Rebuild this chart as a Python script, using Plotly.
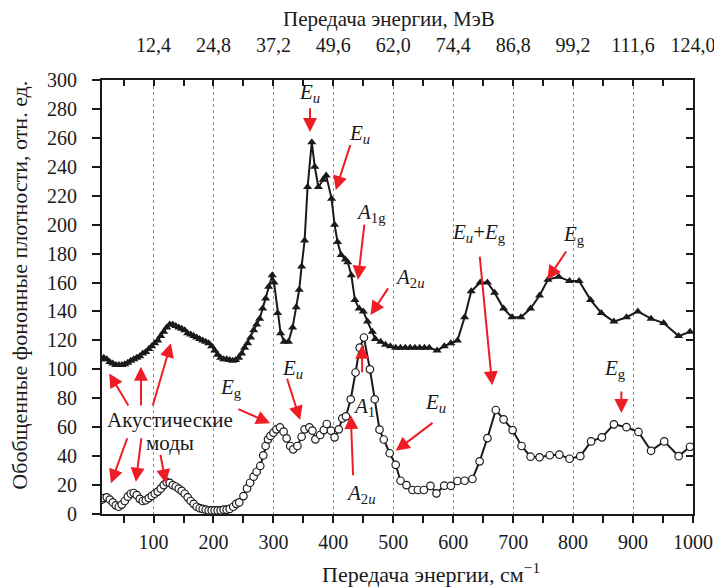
import plotly.graph_objects as go

# ---------------- data ----------------
tri_x = [14, 17, 22, 27, 32, 37, 42, 47, 52, 57, 62, 67, 72, 77, 82, 87, 92, 97, 102, 107,
         112, 117, 122, 127, 132, 137, 142, 147, 152, 157, 162, 167, 172, 177, 182, 187, 192,
         197, 202, 207, 212, 217, 222, 227, 232, 237, 242, 247, 252, 257, 262, 267, 272, 277,
         282, 287, 292, 298, 301, 307, 312, 318, 325, 332, 338, 343, 347, 352, 357, 364, 369,
         375, 383, 388, 397, 402, 407, 413, 420, 424, 430, 436, 443, 450, 457, 465, 470, 479,
         487, 495, 504, 512, 520, 528, 536, 544, 552, 560, 573, 585, 596, 607, 619, 630, 645,
         657, 669, 684, 698, 713, 729, 744, 758, 776, 794, 810, 829, 847, 868, 889, 908, 930,
         951, 976, 995]
tri_y = [107, 108, 107, 105, 104, 103, 103, 103, 103.5, 104.5, 106, 107, 108, 109, 111, 112,
         114, 116, 118, 120, 123, 126, 129, 131, 131, 130, 129, 128, 127, 125, 124, 123, 122,
         121, 120, 119, 118, 116, 113, 110, 108, 107, 107, 106.5, 106, 106.5, 108, 111, 115,
         118, 122, 127, 131, 135, 142, 149, 157, 165, 160, 139, 125, 119, 119, 129, 143, 155,
         171, 189, 226, 257, 240, 226, 231, 234, 218, 200, 188, 179, 176, 174, 165, 148, 142,
         140, 133, 126, 121, 119, 117, 116, 115, 115, 115, 115, 115, 115, 115, 115, 113, 116,
         118, 120, 136, 154, 160, 160, 153, 142, 136, 136, 142, 151, 162, 164, 161, 161, 148,
         139, 133, 136, 140, 135, 132, 123, 126]

circ_x = [14, 17, 22, 27, 32, 37, 42, 47, 52, 57, 62, 67, 72, 77, 82, 87, 92, 97, 102, 107,
          112, 117, 122, 127, 132, 137, 142, 147, 152, 157, 162, 167, 172, 177, 182, 187, 192,
          197, 202, 207, 212, 217, 222, 227, 233, 238, 243, 250, 256, 261, 267, 272, 278, 283,
          287, 291, 295, 300, 305, 311, 317, 322, 328, 333, 340, 347, 352, 360, 365, 370, 378,
          384, 389, 396, 402, 409, 415, 421, 429, 437, 444, 451, 461, 469, 477, 484, 494, 504,
          512, 522, 532, 541, 551, 562, 572, 585, 596, 607, 619, 632, 644, 657, 671, 684, 699,
          714, 729, 744, 761, 777, 794, 812, 830, 848, 868, 889, 909, 930, 952, 976, 995]
circ_y = [10, 11, 11.5, 10, 8, 6, 5, 6.5, 9, 12, 14, 14.5, 13, 10.5, 9, 9.5, 11, 12.5, 14,
          15.5, 17.5, 20, 22, 21.5, 20, 19, 17.5, 16, 14, 11.5, 9, 7, 5, 4, 3.5, 3, 2.5, 2.5,
          2.5, 2.5, 2.5, 3, 3, 3.5, 5, 7, 8, 12.4, 17.7, 21.6, 25.8, 29.2, 33.2, 40.5, 47,
          51.6, 54, 56.2, 58.5, 59.9, 56.9, 52.3, 47, 44.7, 47, 53.4, 58.5, 59.9, 57.6, 51.6,
          54.6, 58, 62.2, 57.6, 53, 58.5, 66.1, 67.5, 79.3, 97.8, 115, 122, 100, 79.3, 58.3,
          51.5, 42, 34, 23, 20, 16.6, 16.6, 16.6, 19.4, 14.3, 19.6, 19.5, 22.8, 23, 24.2,
          36.4, 52.5, 71.9, 65.4, 58, 47, 39.6, 39.2, 40.6, 41, 38.2, 40, 50.2, 53, 62, 60,
          56.7, 43.7, 50.2, 40, 46.5]

x_ticks = [100, 200, 300, 400, 500, 600, 700, 800, 900, 1000]
x_minor = [50, 150, 250, 350, 450, 550, 650, 750, 850, 950]
mev_labels = ["12,4", "24,8", "37,2", "49,6", "62,0", "74,4", "86,8", "99,2", "111,6", "124,0"]
y_ticks = [0, 20, 40, 60, 80, 100, 120, 140, 160, 180, 200, 220, 240, 260, 280, 300]

# peak labels: text, x, y (data coordinates)
label_text = ["<i>E<sub>u</sub></i>", "<i>E<sub>u</sub></i>", "<i>A</i><sub>1g</sub>",
              "<i>A</i><sub>2<i>u</i></sub>", "<i>E<sub>u</sub></i>+<i>E</i><sub>g</sub>",
              "<i>E</i><sub>g</sub>", "<i>E</i><sub>g</sub>", "<i>A</i><sub>1</sub>",
              "<i>A</i><sub>2<i>u</i></sub>", "<i>E<sub>u</sub></i>", "<i>E<sub>u</sub></i>",
              "<i>E</i><sub>g</sub>", "Акустические", "моды"]
label_x = [361, 443, 462, 528, 643, 801, 870, 451, 446, 571, 332, 229, 127, 128]
label_y = [291, 263, 208, 163, 194, 193, 100, 74, 14, 76.5, 100, 87, 65, 49]

# arrows: tail -> head (data coordinates)
arrow_tail_x = [361, 429, 452, 493, 644, 790, 880.5, 448, 433, 568, 322, 239, 59.5, 79, 98, 57, 80, 111]
arrow_tail_y = [281.5, 256, 201, 157, 179, 182.5, 85.7, 97, 25.8, 63.8, 94.5, 73, 74, 74, 74, 53.4, 53.4, 42]
arrow_head_x = [361, 404, 441, 462, 665, 757, 880.5, 448, 429, 504, 344.5, 294.5, 26, 79, 129, 29, 70.5, 120.5]
arrow_head_y = [264, 224, 162, 137.5, 89, 162, 69.8, 117, 68.4, 43.7, 65, 62.7, 97.2, 101.8, 118, 21.2, 22.3, 21.2]

FONT = "Liberation Serif, Times New Roman, serif"
INK = "#1a1a1a"
RED = "#ee1c25"

fig = go.Figure()
fig.add_trace(go.Scatter(
    x=tri_x, y=tri_y, mode="lines+markers",
    line=dict(color=INK, width=2),
    marker=dict(symbol="triangle-up", size=8, color=INK),
    showlegend=False))
fig.add_trace(go.Scatter(
    x=circ_x, y=circ_y, mode="lines+markers",
    line=dict(color=INK, width=2),
    marker=dict(symbol="circle", size=7.5, color="white", line=dict(color=INK, width=1.2)),
    showlegend=False))
# carrier trace for the top / right axes
fig.add_trace(go.Scatter(x=[None], y=[None], xaxis="x2", yaxis="y2",
                         showlegend=False, hoverinfo="skip"))

annotations = []
for tx, ty, hx, hy in zip(arrow_tail_x, arrow_tail_y, arrow_head_x, arrow_head_y):
    annotations.append(dict(
        x=hx, y=hy, ax=tx, ay=ty, xref="x", yref="y", axref="x", ayref="y",
        text="", showarrow=True, arrowhead=2, arrowsize=1.4, arrowwidth=2,
        arrowcolor=RED, standoff=0, startstandoff=0))
for t, lx, ly in zip(label_text, label_x, label_y):
    annotations.append(dict(
        x=lx, y=ly, xref="x", yref="y", text=t, showarrow=False,
        xanchor="center", yanchor="middle",
        font=dict(family=FONT, size=21, color=INK)))

annotations.append(dict(text="Передача энергии, МэВ", x=0.486, y=1.14, xref="paper",
                        yref="paper", showarrow=False, xanchor="center", yanchor="middle",
                        font=dict(family=FONT, size=21, color=INK)))
annotations.append(dict(text="Передача энергии, см<sup>−1</sup>", x=0.557, y=-0.136,
                        xref="paper", yref="paper", showarrow=False,
                        xanchor="center", yanchor="middle",
                        font=dict(family=FONT, size=22, color=INK)))
annotations.append(dict(text="Обобщенные фононные плотности, отн. ед.", x=-0.139, y=0.528,
                        xref="paper", yref="paper", showarrow=False, textangle=-90,
                        xanchor="center", yanchor="middle",
                        font=dict(family=FONT, size=22, color=INK)))

# the page body adds an 8 px offset; the figure is sized to fit the window
fig.update_layout(
    width=714, height=579,
    margin=dict(l=94, r=29, t=72, b=73, autoexpand=False),
    paper_bgcolor="white", plot_bgcolor="white",
    font=dict(family=FONT, size=20, color=INK),
    annotations=annotations,
    xaxis=dict(range=[14, 1000], tickvals=x_ticks, ticks="outside", ticklen=7,
               tickwidth=1.5, tickcolor=INK,
               minor=dict(tickvals=x_minor, ticks="outside", ticklen=7, tickwidth=1.5,
                          tickcolor=INK, showgrid=False),
               showgrid=True, gridcolor="#8c8c8c", griddash="dot", gridwidth=1,
               showline=True, linewidth=2, linecolor=INK, zeroline=False,
               tickfont=dict(size=20), ticklabelstandoff=2, automargin=False),
    xaxis2=dict(range=[14, 1000], overlaying="x", side="top", anchor="y2",
                tickvals=x_ticks, ticktext=mev_labels, ticks="inside", ticklen=6,
                tickwidth=1.5, tickcolor=INK,
                minor=dict(tickvals=x_minor, ticks="inside", ticklen=6, tickwidth=1.5,
                           tickcolor=INK),
                showgrid=False, showline=True, linewidth=2, linecolor=INK,
                zeroline=False, tickfont=dict(size=20), ticklabelstandoff=18,
                automargin=False),
    yaxis=dict(range=[0, 300], tickvals=y_ticks, ticks="outside", ticklen=8, tickwidth=1.5,
               tickcolor=INK, showgrid=False, showline=True, linewidth=2,
               linecolor=INK, zeroline=False, tickfont=dict(size=20),
               ticklabelstandoff=11, automargin=False),
    yaxis2=dict(range=[0, 300], overlaying="y", side="right", anchor="x2",
                tickvals=y_ticks, ticks="inside", ticklen=7, tickwidth=1.5,
                tickcolor=INK, showticklabels=False, showgrid=False,
                showline=True, linewidth=2, linecolor=INK, zeroline=False,
                automargin=False),
)

fig.write_html("out.html")
